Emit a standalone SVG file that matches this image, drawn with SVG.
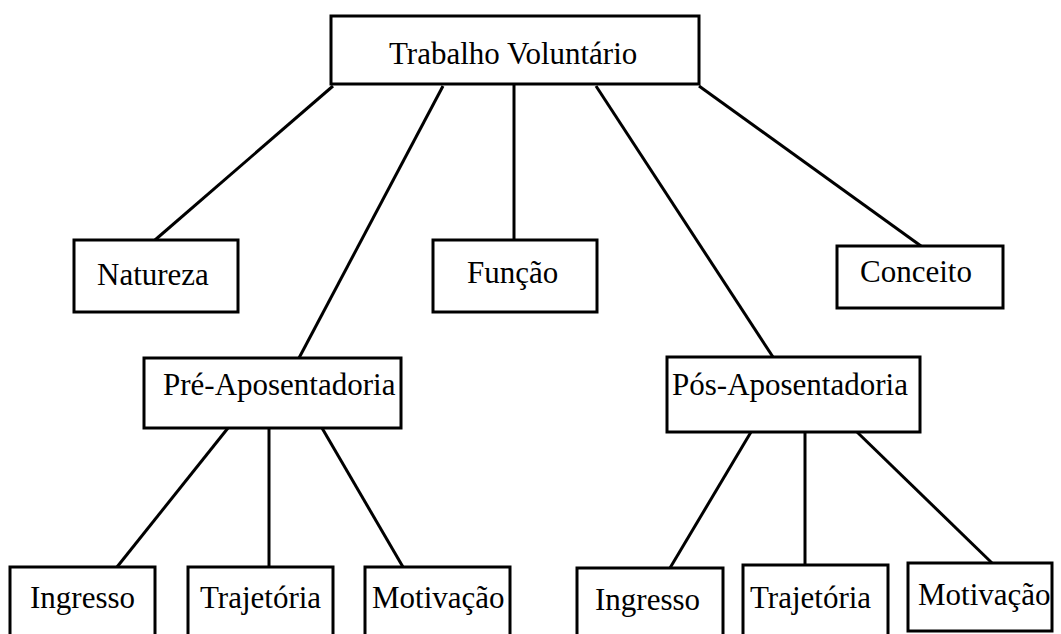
<svg xmlns="http://www.w3.org/2000/svg" width="1061" height="634" viewBox="0 0 1061 634">
<style>
rect{fill:#fff;stroke:#000;stroke-width:3}
line{stroke:#000;stroke-width:3}
text{font-family:"Liberation Serif","Times New Roman",serif;font-size:31px;fill:#000}
</style>
<rect x="0" y="0" width="1061" height="634" style="stroke:none"/>
<g id="connectors">
<line x1="333" y1="86" x2="155" y2="240"/>
<line x1="443" y1="86" x2="299" y2="358"/>
<line x1="514" y1="84" x2="514" y2="240"/>
<line x1="596" y1="86" x2="773" y2="357"/>
<line x1="699" y1="86" x2="921" y2="246"/>
<line x1="228" y1="428" x2="117" y2="567"/>
<line x1="269" y1="428" x2="269" y2="567"/>
<line x1="322" y1="428" x2="403" y2="567"/>
<line x1="751" y1="432" x2="670" y2="568"/>
<line x1="805" y1="432" x2="805" y2="565"/>
<line x1="857" y1="432" x2="992" y2="563"/>
</g>
<g id="trabalho"><rect x="331" y="16" width="368" height="68"/><text x="389" y="64">Trabalho Voluntário</text></g>
<g id="natureza"><rect x="74" y="240" width="164" height="72"/><text x="97" y="285">Natureza</text></g>
<g id="funcao"><rect x="433" y="240" width="164" height="72"/><text x="467" y="283">Função</text></g>
<g id="conceito"><rect x="837" y="246" width="166" height="62"/><text x="860" y="282">Conceito</text></g>
<g id="pre"><rect x="144" y="358" width="257" height="70"/><text x="163" y="395">Pré-Aposentadoria</text></g>
<g id="pos"><rect x="667" y="357" width="253" height="75"/><text x="672" y="395">Pós-Aposentadoria</text></g>
<g id="pre-ingresso"><rect x="10" y="567" width="145" height="75"/><text x="30" y="608">Ingresso</text></g>
<g id="pre-trajetoria"><rect x="188" y="567" width="145" height="75"/><text x="200" y="608">Trajetória</text></g>
<g id="pre-motivacao"><rect x="365" y="567" width="145" height="75"/><text x="372" y="608">Motivação</text></g>
<g id="pos-ingresso"><rect x="577" y="568" width="146" height="75"/><text x="595" y="610">Ingresso</text></g>
<g id="pos-trajetoria"><rect x="743" y="565" width="145" height="75"/><text x="750" y="608">Trajetória</text></g>
<g id="pos-motivacao"><rect x="908" y="563" width="144" height="68"/><text x="918" y="605">Motivação</text></g>
</svg>
